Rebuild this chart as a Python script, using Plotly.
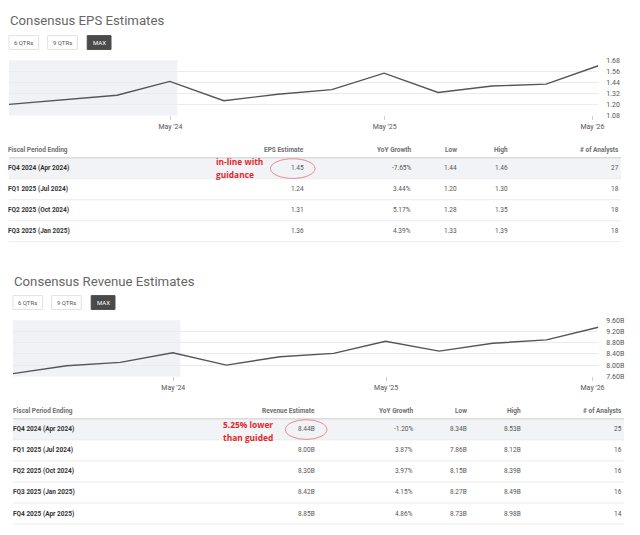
import plotly.graph_objects as go

# the page body adds an 8px margin, so the figure is drawn 8px in from the window corner
OFF = 8
W, H = 640 - OFF, 535 - OFF

# quarter end dates for both line charts
quarters = ["2023-07-31", "2023-10-31", "2024-01-31", "2024-04-30", "2024-07-31", "2024-10-31",
            "2025-01-31", "2025-04-30", "2025-07-31", "2025-10-31", "2026-01-31", "2026-04-30"]
eps_line = [1.20, 1.25, 1.30, 1.45, 1.24, 1.31, 1.36, 1.54, 1.33, 1.40, 1.42, 1.62]
rev_line = [7.70, 7.98, 8.10, 8.44, 8.00, 8.30, 8.42, 8.85, 8.50, 8.78, 8.90, 9.35]

eps_yticks = [1.08, 1.20, 1.32, 1.44, 1.56, 1.68]
rev_yticks = [7.60, 8.00, 8.40, 8.80, 9.20, 9.60]
rev_yticktext = ["7.60B", "8.00B", "8.40B", "8.80B", "9.20B", "9.60B"]
x_tickvals = ["2024-05-01", "2025-05-01", "2026-04-20"]
x_ticktext = ["May '24", "May '25", "May '26"]
today = "2024-05-13"

buttons = ["6 QTRs", "9 QTRs", "MAX"]

eps_periods = ["FQ4 2024 (Apr 2024)", "FQ1 2025 (Jul 2024)", "FQ2 2025 (Oct 2024)", "FQ3 2025 (Jan 2025)"]
eps_est = ["1.45", "1.24", "1.31", "1.36"]
eps_yoy = ["-7.65%", "3.44%", "5.17%", "4.39%"]
eps_low = ["1.44", "1.20", "1.28", "1.33"]
eps_high = ["1.46", "1.30", "1.35", "1.39"]
eps_analysts = ["27", "18", "18", "18"]

rev_periods = ["FQ4 2024 (Apr 2024)", "FQ1 2025 (Jul 2024)", "FQ2 2025 (Oct 2024)",
               "FQ3 2025 (Jan 2025)", "FQ4 2025 (Apr 2025)"]
rev_est = ["8.44B", "8.00B", "8.30B", "8.42B", "8.85B"]
rev_yoy = ["-1.20%", "3.87%", "3.97%", "4.15%", "4.86%"]
rev_low = ["8.34B", "7.86B", "8.15B", "8.27B", "8.73B"]
rev_high = ["8.53B", "8.12B", "8.39B", "8.49B", "8.98B"]
rev_analysts = ["25", "16", "16", "16", "14"]

eps_note = ["in-line with", "guidance"]
rev_note = ["5.25% lower", "than guided"]

FONT = "Roboto"
GRID = "#ebebeb"


def px(x):
    return (x - OFF) / W


def py(y):
    return 1 - (y - OFF) / H


fig = go.Figure()
fig.add_trace(go.Scatter(x=quarters, y=eps_line, mode="lines", xaxis="x", yaxis="y",
                         line=dict(color="#555555", width=1.4), hoverinfo="skip"))
fig.add_trace(go.Scatter(x=quarters, y=rev_line, mode="lines", xaxis="x2", yaxis="y2",
                         line=dict(color="#555555", width=1.4), hoverinfo="skip"))

xcommon = dict(range=[quarters[0], quarters[-1]], tickvals=x_tickvals, ticktext=x_ticktext,
               showgrid=False, zeroline=False, showline=False, ticks="outside", ticklen=4,
               tickcolor="#d0d0d0", ticklabelstandoff=0,
               tickfont=dict(family=FONT, size=7, color="#555"))
ycommon = dict(side="right", showgrid=True, gridcolor=GRID, gridwidth=1, zeroline=False,
               showline=False, ticks="", ticklabelstandoff=7,
               tickfont=dict(family=FONT, size=7, color="#555"))

fig.update_layout(
    width=W, height=H, margin=dict(l=0, r=0, t=0, b=0),
    paper_bgcolor="white", plot_bgcolor="rgba(0,0,0,0)", showlegend=False,
    xaxis=dict(domain=[px(9), px(604)], anchor="y", **xcommon),
    yaxis=dict(domain=[py(113), py(57)], anchor="x", range=[1.08, 1.68],
               tickvals=eps_yticks, tickformat=".2f", **ycommon),
    xaxis2=dict(domain=[px(13), px(604)], anchor="y2", **xcommon),
    yaxis2=dict(domain=[py(378), py(321)], anchor="x2", range=[7.60, 9.60],
                tickvals=rev_yticks, ticktext=rev_yticktext, **ycommon),
)

shapes = []
ann = []

# shaded past region
for xr, yr in [("x", "y domain"), ("x2", "y2 domain")]:
    shapes.append(dict(type="rect", xref=xr, yref=yr, x0=quarters[0], x1=today, y0=0, y1=1,
                       fillcolor="#f1f2f6", line=dict(width=0), layer="below"))


def section(title, tx, ty, bx, by, cols, rows, rights, header_y, line_y, row_h, x0, x1):
    ann.append(dict(text=title, x=px(tx), y=py(ty), xref="paper", yref="paper",
                    xanchor="left", yanchor="middle", showarrow=False,
                    font=dict(family=FONT, size=13.2, color="#666666")))
    # range buttons
    widths = [30, 30, 24]
    gaps = [9, 10, 0]
    x = bx
    for b, w, g in zip(buttons, widths, gaps):
        dark = b == "MAX"
        shapes.append(dict(type="rect", xref="paper", yref="paper", x0=px(x), x1=px(x + w),
                           y0=py(by + 14), y1=py(by), fillcolor="#4a4a4a" if dark else "white",
                           line=dict(color="#4a4a4a" if dark else "#e2e2e2", width=1)))
        ann.append(dict(text=b, x=px(x + w / 2), y=py(by + 7), xref="paper", yref="paper",
                        xanchor="center", yanchor="middle", showarrow=False,
                        font=dict(family=FONT, size=6, color="white" if dark else "#555")))
        x += w + g
    # header
    for i, (c, r) in enumerate(zip(cols, rights)):
        ann.append(dict(text="<b>" + c + "</b>", x=px(r), y=py(header_y), xref="paper", yref="paper",
                        xanchor="left" if i == 0 else "right", yanchor="middle", showarrow=False,
                        font=dict(family=FONT, size=6.5, color="#707070")))
    # highlighted first row
    shapes.append(dict(type="rect", xref="paper", yref="paper", x0=px(x0), x1=px(x1),
                       y0=py(line_y + row_h), y1=py(line_y), fillcolor="#f2f3f7",
                       line=dict(width=0), layer="below"))
    shapes.append(dict(type="line", xref="paper", yref="paper", x0=px(x0), x1=px(x1),
                       y0=py(line_y), y1=py(line_y), line=dict(color="#dcdcdc", width=1.5)))
    n = len(rows[0])
    for k in range(n):
        yl = line_y + row_h * (k + 1)
        shapes.append(dict(type="line", xref="paper", yref="paper", x0=px(x0), x1=px(x1),
                           y0=py(yl), y1=py(yl), line=dict(color="#ececec", width=1)))
        yc = line_y + row_h * (k + 0.5)
        for i, (col, r) in enumerate(zip(rows, rights)):
            t = col[k]
            if i == 0:
                t = "<b>" + t + "</b>"
            ann.append(dict(text=t, x=px(r), y=py(yc), xref="paper", yref="paper",
                            xanchor="left" if i == 0 else "right", yanchor="middle",
                            showarrow=False,
                            font=dict(family=FONT, size=6.5, color="#333333" if i == 0 else "#555555")))


section("Consensus EPS Estimates", 8, 17, 9, 32,
        ["Fiscal Period Ending", "EPS Estimate", "YoY Growth", "Low", "High", "# of Analysts"],
        [eps_periods, eps_est, eps_yoy, eps_low, eps_high, eps_analysts],
        [6, 309, 417, 463, 515, 627], 148, 156, 21.3, 9, 627)

section("Consensus Revenue Estimates", 12, 282, 13, 296,
        ["Fiscal Period Ending", "Revenue Estimate", "YoY Growth", "Low", "High", "# of Analysts"],
        [rev_periods, rev_est, rev_yoy, rev_low, rev_high, rev_analysts],
        [11, 320, 419, 473, 528, 630], 413, 421, 21.4, 13, 630)

# red call-outs
red = "#e3262b"
for note, nx, ny in [(eps_note, 216, 160), (rev_note, 223, 427)]:
    for j, line in enumerate(note):
        ann.append(dict(text=line, x=px(nx), y=py(ny + 13 * j), xref="paper", yref="paper",
                        xanchor="left", yanchor="middle", showarrow=False,
                        font=dict(family="Open Sans", size=8.4, color=red, weight="bold")))
shapes.append(dict(type="circle", xref="paper", yref="paper", x0=px(273), x1=px(318),
                   y0=py(177), y1=py(157), line=dict(color="#e88a8a", width=1)))
shapes.append(dict(type="circle", xref="paper", yref="paper", x0=px(288), x1=px(330),
                   y0=py(442), y1=py(422), line=dict(color="#e88a8a", width=1)))

fig.update_layout(shapes=shapes, annotations=ann)
fig.write_html("out.html")
